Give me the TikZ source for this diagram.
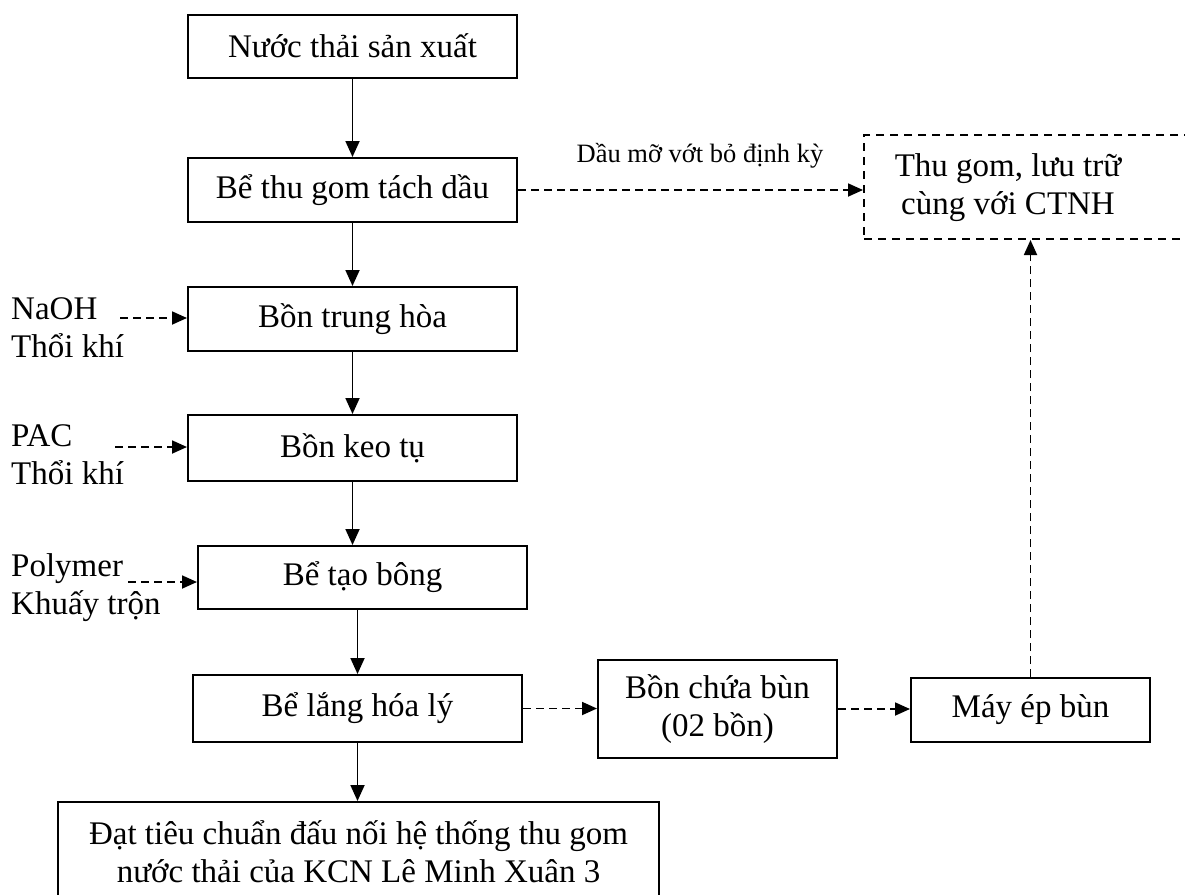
\documentclass[tikz,border=0pt]{standalone}
\usepackage{fontspec}
\setmainfont{Liberation Serif}
\usetikzlibrary{arrows.meta}
\begin{document}
\begin{tikzpicture}[x=1pt,y=-1pt,
  every node/.style={font=\fontsize{33}{38}\selectfont, inner sep=0pt},
  procbox/.style={draw, line width=2pt, minimum width=329pt, align=center},
  smallbox/.style={draw, line width=2pt, minimum width=239pt, align=center},
  dbox/.style={draw, line width=2pt, dash pattern=on 8pt off 6pt},
  flow/.style={line width=1.8pt, -{Triangle[length=16pt,width=14pt]}},
  dflow/.style={line width=1.8pt, dash pattern=on 8pt off 5pt, -{Triangle[length=15pt,width=13pt]}},
  sidelabel/.style={anchor=west, align=left}
]
\useasboundingbox (0,0) rectangle (1185,894);
\clip (0,0) rectangle (1185,894);

\node[procbox, minimum height=63pt] (b1) at (352.5,46) {Nước thải sản xuất};
\node[procbox, minimum height=64pt] (b2) at (352.5,190) {Bể thu gom tách dầu};
\node[procbox, minimum height=64pt] (b3) at (352.5,319) {Bồn trung hòa};
\node[procbox, minimum height=66pt] (b4) at (352.5,448) {Bồn keo tụ};
\node[procbox, minimum height=63pt] (b5) at (362.5,577.5) {Bể tạo bông};
\node[procbox, minimum height=67pt] (b6) at (357.5,708.5) {Bể lắng hóa lý};
\node[draw, line width=2pt, minimum width=601pt, minimum height=100pt] (b7) at (358.5,852) {};
\node[align=center] (b7text) at (358.5,852) {Đạt tiêu chuẩn đấu nối hệ thống thu gom\\nước thải của KCN Lê Minh Xuân 3};

\node[smallbox, minimum height=98pt] (b8) at (717.5,709) {Bồn chứa bùn\\(02 bồn)};
\node[smallbox, minimum height=64pt] (b9) at (1030.5,710) {Máy ép bùn};

\node[dbox, minimum width=336pt, minimum height=104pt] (ctnh) at (1032,187) {};
\node[align=center] (ctnhtext) at (1008,188) {Thu gom, lưu trữ\\cùng với CTNH};

\node[font=\fontsize{26.5}{30}\selectfont] (dau) at (700,156) {Dầu mỡ vớt bỏ định kỳ};

\node[sidelabel] (l1) at (11,328) {NaOH\\Thổi khí};
\node[sidelabel] (l2) at (11,455) {PAC\\Thổi khí};
\node[sidelabel] (l3) at (11,588) {Polymer\\Khuấy trộn};

\coordinate (a1) at (120,318);
\coordinate (a2) at (115,447);
\coordinate (a3) at (128,582);

% main flow
\draw[flow] (b1.south) -- (b2.north);
\draw[flow] (b2.south) -- (b3.north);
\draw[flow] (b3.south) -- (b4.north);
\draw[flow] (b4.south) -- (b4.south |- b5.north);
\draw[flow] (b6.north |- b5.south) -- (b6.north);
\draw[flow] (b6.south) -- (b6.south |- b7.north);

% dashed flows
\draw[dflow] (b2.east) -- (b2.east -| ctnh.west);
\draw[dflow] (a1) -- (a1 -| b3.west);
\draw[dflow] (a2) -- (a2 -| b4.west);
\draw[dflow] (a3) -- (a3 -| b5.west);
\draw[dflow] (b6.east) -- (b6.east -| b8.west);
\draw[dflow] (b8.east) -- (b8.east -| b9.west);
\draw[dflow] (b9.north) -- (b9.north |- ctnh.south);
\end{tikzpicture}
\end{document}
